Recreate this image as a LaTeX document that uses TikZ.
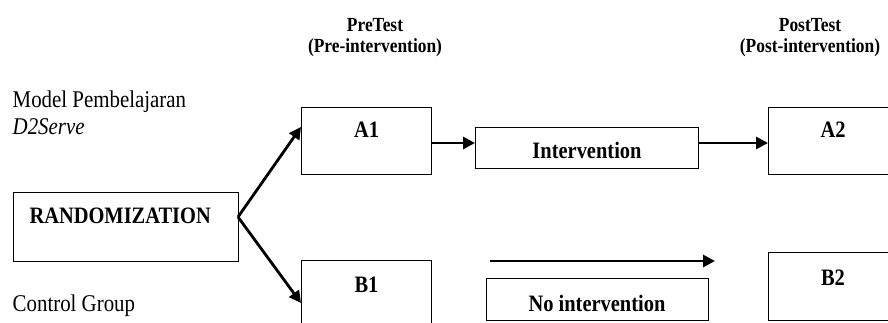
\documentclass[tikz,border=0pt]{standalone}
\usepackage{fontspec}
\setmainfont{Liberation Serif}[FakeStretch=0.87]
\usetikzlibrary{arrows.meta}
\begin{document}
\begin{tikzpicture}[x=1pt,y=-1pt,
  box/.style={draw, line width=1.3pt, rectangle, inner sep=0pt, anchor=north west},
  txt/.style={font=\fontsize{24}{27}\selectfont, inner sep=0pt, anchor=base west},
  btxt/.style={font=\fontsize{23.5}{27}\selectfont\bfseries, inner sep=0pt, anchor=base},
  htxt/.style={font=\fontsize{20}{21}\selectfont\bfseries, align=center, inner sep=0pt, anchor=base},
  arr/.style={line width=2.8pt, -{Triangle[length=12pt,width=12pt]}}]
\useasboundingbox (0,0) rectangle (888,323);
\clip (0,0) rectangle (888,323);

% headers
\node[htxt] (hpre) at (375,53) {PreTest\\(Pre-intervention)};
\node[htxt] (hpost) at (810,53) {PostTest\\(Post-intervention)};

% left texts
\node[txt] (model) at (12.5,107.5) {Model Pembelajaran};
\node[txt] (d2s) at (12.5,135) {\itshape D2Serve};
\node[txt] (ctrl) at (12.5,311) {Control Group};

% boxes
\node[box, minimum width=225, minimum height=69] (rand) at (13,192) {};
\node[box, minimum width=130, minimum height=67] (a1) at (301,107) {};
\node[box, minimum width=223, minimum height=41] (int) at (475,127) {};
\node[box, minimum width=130, minimum height=67] (a2) at (768,107) {};
\node[box, minimum width=130, minimum height=80] (b1) at (301,260) {};
\node[box, minimum width=222, minimum height=42] (noint) at (486,278) {};
\node[box, minimum width=130, minimum height=68] (b2) at (768,252) {};

% box texts
\node[btxt, anchor=base west] (trand) at (29.3,223.3) {RANDOMIZATION};
\node[btxt] (ta1) at (366.5,137.5) {A1};
\node[btxt] (ta2) at (833,137.5) {A2};
\node[btxt] (tb1) at (366.5,292) {B1};
\node[btxt] (tb2) at (833,285) {B2};
\node[btxt] (tint) at (587,158.3) {Intervention};
\node[btxt] (tnoint) at (597,311.7) {No intervention};

% connectors
\coordinate (r) at (238,217);
\draw[arr] (r) -- (a1.west |- 0,127);
\draw[arr] (r) -- (b1.west |- 0,303);
\draw[arr] (a1.east |- 0,143) -- (int.west |- 0,143);
\draw[arr] (int.east |- 0,143) -- (a2.west |- 0,143);
\coordinate (n0) at (490,261);
\coordinate (n1) at (715,261);
\draw[arr] (n0) -- (n1);
\end{tikzpicture}
\end{document}
